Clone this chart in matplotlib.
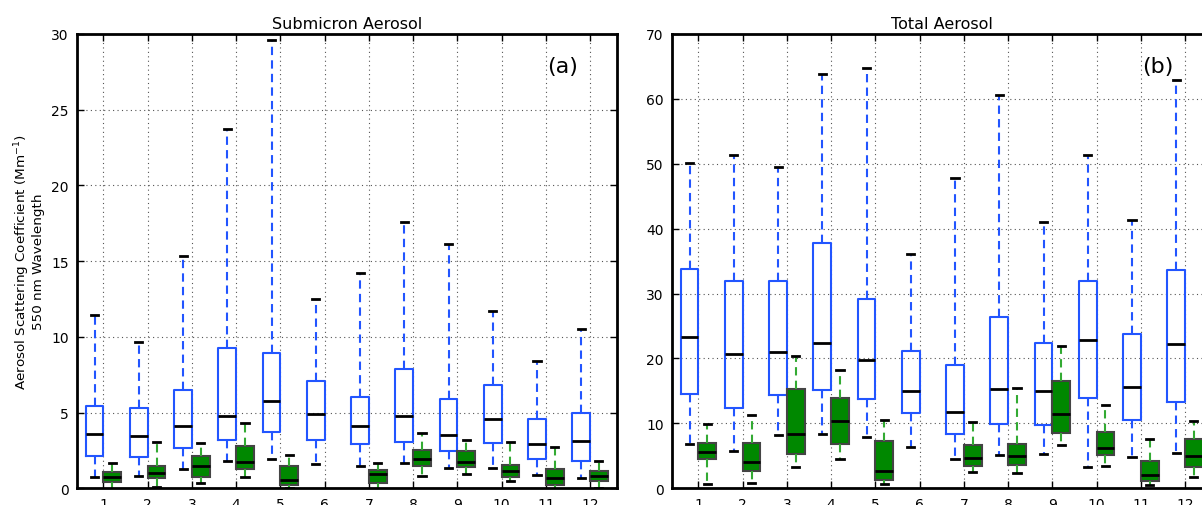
import matplotlib
matplotlib.use("Agg")
import matplotlib.pyplot as plt

months = list(range(1, 13))

# submicron aerosol, blue boxes: lower cap, q1, median, q3, upper cap
sub_blue_lo = [0.75, 0.83, 1.30, 1.82, 1.96, 1.63, 1.49, 1.69, 1.34, 1.34, 0.90, 0.70]
sub_blue_q1 = [2.13, 2.09, 2.64, 3.21, 3.74, 3.21, 2.93, 3.04, 2.49, 2.99, 1.94, 1.80]
sub_blue_med = [3.61, 3.48, 4.14, 4.80, 5.77, 4.89, 4.14, 4.80, 3.54, 4.58, 2.95, 3.15]
sub_blue_q3 = [5.44, 5.33, 6.47, 9.25, 8.94, 7.07, 6.01, 7.88, 5.88, 6.82, 4.56, 5.00]
sub_blue_hi = [11.47, 9.68, 15.36, 23.69, 29.57, 12.52, 14.22, 17.60, 16.10, 11.73, 8.43, 10.54]

# submicron aerosol, green boxes (no data in month 6)
sub_green_lo = [-0.1, 0.10, 0.37, 0.75, 0.04, None, -0.1, 0.81, 0.97, 0.48, -0.1, 0.04]
sub_green_q1 = [0.42, 0.66, 0.75, 1.25, 0.22, None, 0.33, 1.49, 1.39, 0.75, 0.24, 0.46]
sub_green_med = [0.75, 1.03, 1.49, 1.76, 0.57, None, 0.94, 1.96, 1.76, 1.12, 0.70, 0.83]
sub_green_q3 = [1.06, 1.49, 2.11, 2.77, 1.47, None, 1.19, 2.53, 2.44, 1.52, 1.25, 1.12]
sub_green_hi = [1.69, 3.08, 3.01, 4.33, 2.22, None, 1.69, 3.67, 3.19, 3.08, 2.75, 1.82]

# total aerosol, blue boxes
tot_blue_lo = [6.87, 5.79, 8.26, 8.41, 7.95, 6.41, 4.56, 5.18, 5.33, 3.33, 4.87, 5.49]
tot_blue_q1 = [14.58, 12.33, 14.38, 15.10, 13.76, 11.56, 8.32, 9.86, 9.80, 13.91, 10.52, 13.25]
tot_blue_med = [23.31, 20.69, 21.00, 22.39, 19.82, 15.04, 11.80, 15.35, 15.04, 22.90, 15.66, 22.24]
tot_blue_q3 = [33.74, 31.99, 31.99, 37.80, 29.17, 21.16, 19.00, 26.39, 22.34, 31.94, 23.73, 33.69]
tot_blue_hi = [50.17, 51.40, 49.55, 63.88, 64.76, 36.15, 47.81, 60.60, 41.08, 51.40, 41.39, 62.97]

# total aerosol, green boxes
tot_green_lo = [0.66, 0.86, 3.28, 4.56, 0.71, None, 2.56, 2.40, 6.72, 3.48, 0.55, 1.79]
tot_green_q1 = [4.51, 2.71, 5.33, 6.83, 1.23, None, 3.44, 3.64, 8.57, 5.13, 1.17, 3.33]
tot_green_med = [5.64, 4.10, 8.41, 10.37, 2.71, None, 4.72, 5.02, 11.49, 6.26, 2.10, 5.02]
tot_green_q3 = [7.03, 7.03, 15.35, 13.91, 7.24, None, 6.72, 6.87, 16.49, 8.63, 4.20, 7.60]
tot_green_hi = [9.95, 11.34, 20.43, 18.23, 10.57, None, 10.22, 15.50, 21.97, 12.88, 7.60, 10.37]

BLUE = "#2255ff"
GREEN_FILL = "#008800"
GREEN_LINE = "#33aa33"


def make_stats(lo, q1, med, q3, hi):
    stats, pos = [], []
    for m, a, b, c, d, e in zip(months, lo, q1, med, q3, hi):
        if c is None:
            continue
        stats.append(dict(whislo=a, q1=b, med=c, q3=d, whishi=e, fliers=[]))
        pos.append(m)
    return stats, pos


def draw_panel(ax, blue, green, ymax, title, tag):
    stats, pos = make_stats(*blue)
    ax.bxp(stats, positions=[p - 0.2 for p in pos], widths=0.4, capwidths=0.16,
           boxprops=dict(color=BLUE, lw=1.5),
           whiskerprops=dict(color=BLUE, lw=1.5, linestyle=(0, (4, 2.5))),
           capprops=dict(color="k", lw=2),
           medianprops=dict(color="k", lw=2),
           showfliers=False, manage_ticks=False)
    stats, pos = make_stats(*green)
    ax.bxp(stats, positions=[p + 0.2 for p in pos], widths=0.4, capwidths=0.16,
           patch_artist=True,
           boxprops=dict(facecolor=GREEN_FILL, edgecolor="#444444", lw=1.5),
           whiskerprops=dict(color=GREEN_LINE, lw=1.5, linestyle=(0, (4, 2.5))),
           capprops=dict(color="k", lw=2),
           medianprops=dict(color="k", lw=2),
           showfliers=False, manage_ticks=False)

    ax.set_xlim(0.4, 12.6)
    ax.set_ylim(0, ymax)
    ax.set_xticks(months)
    ax.set_xticklabels([str(m) for m in months])
    ax.grid(True, color="#555555", linestyle=(0, (1, 3)), lw=0.8)
    ax.set_axisbelow(True)
    for s in ax.spines.values():
        s.set_linewidth(2)
    ax.tick_params(direction="in", top=True, right=True, labelsize=10,
                   length=5, width=1, pad=6)
    ax.set_title(title, fontsize=11.5, pad=4)
    ax.text(0.9, 0.93, tag, transform=ax.transAxes, fontsize=16,
            ha="center", va="center")


fig = plt.figure(figsize=(12.02, 5.06), dpi=100)
ax1 = fig.add_axes([0.064, 0.033, 0.449, 0.898])
ax2 = fig.add_axes([0.559, 0.033, 0.449, 0.898])

draw_panel(ax1, (sub_blue_lo, sub_blue_q1, sub_blue_med, sub_blue_q3, sub_blue_hi),
           (sub_green_lo, sub_green_q1, sub_green_med, sub_green_q3, sub_green_hi),
           30, "Submicron Aerosol", "(a)")
draw_panel(ax2, (tot_blue_lo, tot_blue_q1, tot_blue_med, tot_blue_q3, tot_blue_hi),
           (tot_green_lo, tot_green_q1, tot_green_med, tot_green_q3, tot_green_hi),
           70, "Total Aerosol", "(b)")

ax1.set_ylabel("Aerosol Scattering Coefficient (Mm$^{-1}$)\n550 nm Wavelength",
               fontsize=9.7, linespacing=1.0, labelpad=4)

fig.savefig("out.png", dpi=100)
